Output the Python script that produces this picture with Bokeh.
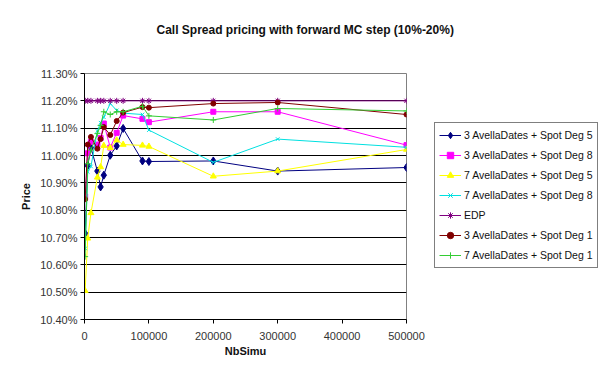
from bokeh.plotting import figure
from bokeh.models import (Legend, LegendItem, Title, SingleIntervalTicker,
                          PrintfTickFormatter, NumeralTickFormatter, Range1d)
from bokeh.embed import file_html
from bokeh.resources import INLINE

nb_simu = [1000, 5000, 10000, 20000, 25000, 30000, 40000, 50000, 60000,
           90000, 100000, 200000, 300000, 500000]

s3_deg5 = [10.715, 10.963, 11.029, 10.943, 10.885, 10.928, 11.001, 11.035, 11.099,
           10.980, 10.978, 10.980, 10.943, 10.956]
s3_deg8 = [10.850, 11.008, 11.050, 11.040, 11.064, 11.117, 11.029, 11.083, 11.146,
           11.134, 11.122, 11.160, 11.160, 11.038]
s7_deg5 = [10.505, 10.697, 10.790, 10.920, 10.958, 11.036, 11.028, 11.056, 11.040,
           11.037, 11.033, 10.924, 10.943, 11.022]
s7_deg8 = [10.660, 10.940, 10.960, 11.090, 11.120, 11.140, 11.190, 11.165, 11.155,
           11.150, 11.093, 10.975, 11.060, 11.030]
edp = [11.20, 11.20, 11.20, 11.20, 11.20, 11.20, 11.20, 11.20, 11.20,
       11.20, 11.20, 11.20, 11.20, 11.20]
s3_deg1 = [10.840, 11.040, 11.068, 11.025, 11.060, 11.104, 11.075, 11.126, 11.157,
           11.177, 11.175, 11.190, 11.194, 11.150]
s7_deg1 = [10.630, 10.970, 11.020, 11.080, 11.110, 11.160, 11.150, 11.160, 11.160,
           11.180, 11.145, 11.130, 11.172, 11.163]

series = [
    ("3 AvellaDates + Spot Deg 5", s3_deg5, "#000080", "diamond", 8),
    ("3 AvellaDates + Spot Deg 8", s3_deg8, "#FF00FF", "square", 5),
    ("7 AvellaDates + Spot Deg 5", s7_deg5, "#FFFF00", "triangle", 6),
    ("7 AvellaDates + Spot Deg 8", s7_deg8, "#00E0E0", "x", 5),
    ("EDP", edp, "#800080", "asterisk", 6),
    ("3 AvellaDates + Spot Deg 1", s3_deg1, "#800000", "circle", 5),
    ("7 AvellaDates + Spot Deg 1", s7_deg1, "#33CC33", "cross", 6),
]

FONT = "Liberation Sans"

p = figure(frame_width=322, frame_height=246, output_backend="svg",
           toolbar_location=None,
           x_range=Range1d(0, 500000), y_range=Range1d(10.40, 11.30),
           min_border_left=84, min_border_right=191, min_border_top=73,
           min_border_bottom=53)
p.title = None
# spacer between the frame and the title
p.add_layout(Title(text=" ", text_font=FONT, text_font_size="10px", standoff=20),
             "above")
p.add_layout(Title(text="Call Spread pricing with forward MC step (10%-20%)",
                   align="left", offset=72, standoff=8, text_font=FONT,
                   text_font_size="12px", text_font_style="bold",
                   text_color="#111111"), "above")

p.background_fill_color = "white"
p.border_fill_color = "white"
p.outline_line_color = "#808080"
p.outline_line_width = 1

p.xaxis.ticker = SingleIntervalTicker(interval=100000, num_minor_ticks=0)
p.xaxis.formatter = NumeralTickFormatter(format="0")
p.yaxis.ticker = SingleIntervalTicker(interval=0.1, num_minor_ticks=0)
p.yaxis.formatter = PrintfTickFormatter(format="%.2f%%")

for ax in (p.xaxis, p.yaxis):
    ax.axis_line_color = "black"
    ax.major_tick_line_color = "black"
    ax.major_tick_in = 0
    ax.major_tick_out = 4
    ax.minor_tick_line_color = None
    ax.major_label_text_font = FONT
    ax.major_label_text_font_size = "11px"
    ax.major_label_text_color = "#333333"
    ax.axis_label_text_font = FONT
    ax.axis_label_text_font_size = "11px"
    ax.axis_label_text_font_style = "bold"
    ax.axis_label_text_color = "#111111"

p.xaxis.axis_label = "NbSimu"
p.yaxis.axis_label = "Price"
p.xaxis.major_label_standoff = 8
p.xaxis.axis_label_standoff = 2
p.yaxis.major_label_standoff = 3
p.yaxis.axis_label_standoff = 5

p.xgrid.grid_line_color = None
p.ygrid.grid_line_color = "#000000"
p.ygrid.grid_line_width = 1

items = []
for name, ys, color, marker, size in series:
    r1 = p.line(nb_simu, ys, line_color=color, line_width=1)
    r2 = p.scatter(nb_simu, ys, marker=marker, size=size, line_color=color,
                   fill_color=color, line_width=1)
    items.append(LegendItem(label=name, renderers=[r1, r2]))

legend = Legend(items=items, location=(28, 51))
legend.border_line_color = "black"
legend.border_line_width = 1
legend.background_fill_color = "white"
legend.background_fill_alpha = 1
legend.label_text_font = FONT
legend.label_text_font_size = "10.5px"
legend.label_text_color = "#111111"
legend.glyph_width = 22
legend.glyph_height = 16
legend.label_height = 16
legend.label_standoff = 3
legend.spacing = 4
legend.padding = 4
legend.margin = 0
p.add_layout(legend, "right")

open("out.html", "w").write(file_html(p, INLINE))
